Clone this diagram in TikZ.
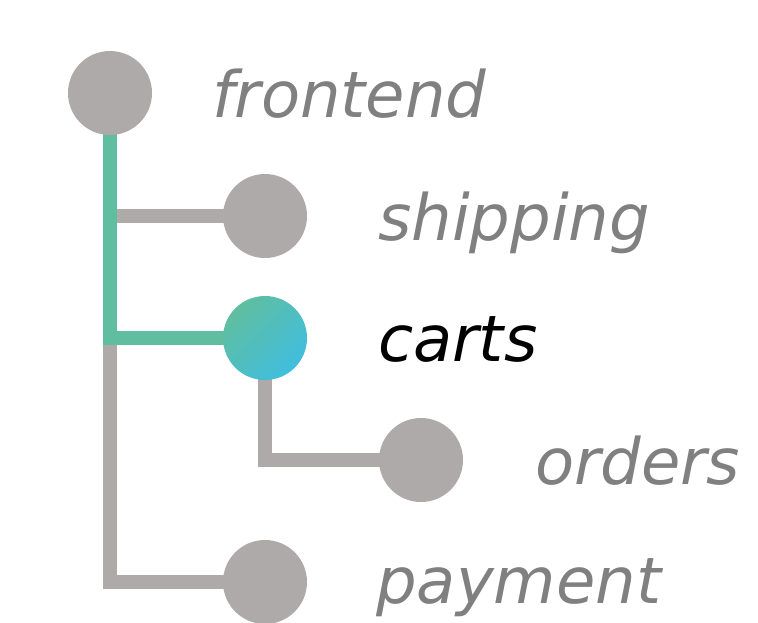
\documentclass[tikz,border=0pt]{standalone}
\usepackage{fontspec}
\setmainfont{DejaVu Sans}
\definecolor{nodegray}{RGB}{174,170,169}
\definecolor{linkgreen}{RGB}{96,190,160}
\definecolor{linkblue}{RGB}{64,190,222}
\definecolor{labelgray}{RGB}{128,128,128}
\begin{document}
\begin{tikzpicture}[x=1pt,y=-1pt,
  svc/.style={circle,fill=nodegray,minimum size=84pt,inner sep=0pt},
  link/.style={line width=13.5pt,nodegray,line cap=butt,line join=miter},
  hot/.style={link,linkgreen},
  lbl/.style={anchor=base west,inner sep=0pt,text=labelgray,
    font=\fontsize{64}{72}\selectfont\itshape}]
\useasboundingbox (0,0) rectangle (758,622);

% service positions
\coordinate (pf) at (110,93);
\coordinate (ps) at (265,216);
\coordinate (pc) at (265,338);
\coordinate (po) at (421,460);
\coordinate (pp) at (265,582);

% connectors: grey first, the highlighted path on top
\draw[link] (pf) |- (pp);
\draw[link] (pf |- ps) -- (ps);
\draw[link] (pc) |- (po);
\draw[hot] (pf) -- (pf |- pc) ++(-6.75,0) -- (pc);

% services
\node[svc] (frontend) at (pf) {};
\node[svc] (shipping) at (ps) {};
\node[circle,minimum size=84pt,inner sep=0pt,
  left color=linkgreen,right color=linkblue,shading angle=45] (carts) at (pc) {};
\node[svc] (orders) at (po) {};
\node[svc] (payment) at (pp) {};

% labels
\node[lbl] at ([xshift=102pt,yshift=-24pt]frontend.center) {frontend};
\node[lbl] at ([xshift=113pt,yshift=-24pt]shipping.center) {shipping};
\node[lbl,text=black] at ([xshift=113pt,yshift=-23pt]carts.center) {carts};
\node[lbl] at ([xshift=114pt,yshift=-24pt]orders.center) {orders};
\node[lbl] at ([xshift=111pt,yshift=-21pt]payment.center) {payment};
\end{tikzpicture}
\end{document}
